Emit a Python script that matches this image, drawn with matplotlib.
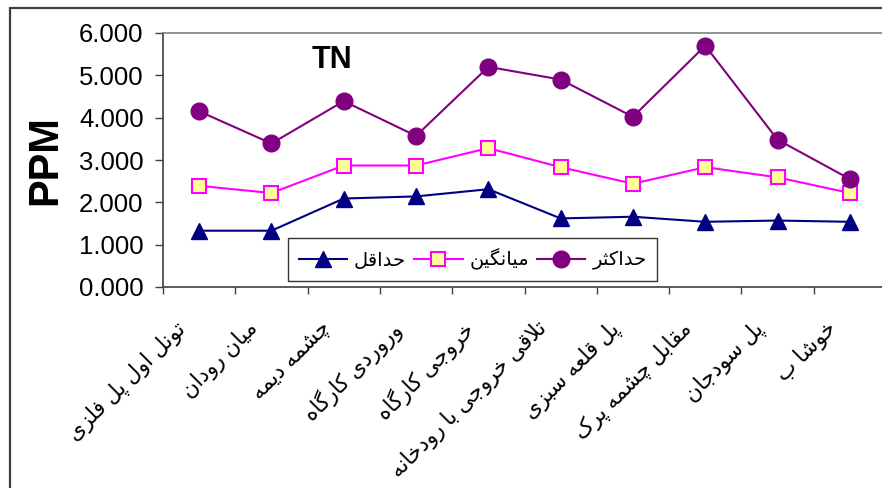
import matplotlib.pyplot as plt
import matplotlib.transforms as mtransforms
from matplotlib.patches import Rectangle
import numpy as np

# sampling stations (x axis)
stations = ["تونل اول پل فلزی", "میان رودان", "چشمه دیمه", "وروردی کارگاه",
            "خروجی کارگاه", "تلاقی خروجی با رودخانه", "پل قلعه سبزی",
            "مقابل چشمه پرک", "پل سودجان", "خوشا ب"]

# TN values (PPM)
tn_min = [1.33, 1.33, 2.09, 2.14, 2.31, 1.62, 1.66, 1.54, 1.57, 1.54]
tn_mean = [2.39, 2.22, 2.87, 2.87, 3.28, 2.83, 2.44, 2.83, 2.59, 2.22]
tn_max = [4.15, 3.39, 4.39, 3.57, 5.20, 4.90, 4.02, 5.70, 3.48, 2.55]

series_names = ["حداقل", "میانگین", "حداکثر"]

# --- minimal arabic/persian shaping (matplotlib has no text shaping) ---
FORMS = {
    'ا': (0xFE8D, 0xFE8E, None, None), 'ب': (0xFE8F, 0xFE90, 0xFE91, 0xFE92),
    'ت': (0xFE95, 0xFE96, 0xFE97, 0xFE98), 'ث': (0xFE99, 0xFE9A, 0xFE9B, 0xFE9C),
    'ج': (0xFE9D, 0xFE9E, 0xFE9F, 0xFEA0), 'ح': (0xFEA1, 0xFEA2, 0xFEA3, 0xFEA4),
    'خ': (0xFEA5, 0xFEA6, 0xFEA7, 0xFEA8), 'د': (0xFEA9, 0xFEAA, None, None),
    'ر': (0xFEAD, 0xFEAE, None, None), 'ز': (0xFEAF, 0xFEB0, None, None),
    'س': (0xFEB1, 0xFEB2, 0xFEB3, 0xFEB4), 'ش': (0xFEB5, 0xFEB6, 0xFEB7, 0xFEB8),
    'ع': (0xFEC9, 0xFECA, 0xFECB, 0xFECC), 'ف': (0xFED1, 0xFED2, 0xFED3, 0xFED4),
    'ق': (0xFED5, 0xFED6, 0xFED7, 0xFED8), 'ل': (0xFEDD, 0xFEDE, 0xFEDF, 0xFEE0),
    'م': (0xFEE1, 0xFEE2, 0xFEE3, 0xFEE4), 'ن': (0xFEE5, 0xFEE6, 0xFEE7, 0xFEE8),
    'ه': (0xFEE9, 0xFEEA, 0xFEEB, 0xFEEC), 'و': (0xFEED, 0xFEEE, None, None),
    'پ': (0xFB56, 0xFB57, 0xFB58, 0xFB59), 'چ': (0xFB7A, 0xFB7B, 0xFB7C, 0xFB7D),
    'ک': (0xFB8E, 0xFB8F, 0xFB90, 0xFB91), 'گ': (0xFB92, 0xFB93, 0xFB94, 0xFB95),
    'ی': (0xFBFC, 0xFBFD, 0xFBFE, 0xFBFF),
}


def joins_left(c):
    return c in FORMS and FORMS[c][2] is not None


def shape(text):
    out = []
    chars = list(text)
    i = 0
    while i < len(chars):
        c = chars[i]
        prev = chars[i - 1] if i > 0 else ' '
        if c not in FORMS:
            out.append(c)
            i += 1
            continue
        from_prev = joins_left(prev)
        # lam-alef ligature
        if c == 'ل' and i + 1 < len(chars) and chars[i + 1] == 'ا':
            out.append(chr(0xFEFC if from_prev else 0xFEFB))
            i += 2
            continue
        nxt = chars[i + 1] if i + 1 < len(chars) else ' '
        to_next = joins_left(c) and nxt in FORMS
        iso, fin, ini, med = FORMS[c]
        if from_prev and to_next:
            g = med
        elif from_prev:
            g = fin
        elif to_next:
            g = ini
        else:
            g = iso
        out.append(chr(g))
        i += 1
    return ''.join(out)[::-1]


plt.rcParams['font.family'] = ['Liberation Sans', 'DejaVu Sans']

fig = plt.figure(figsize=(8.82, 4.88), dpi=100)
# outer chart frame (right and bottom edges fall outside the picture)
fig.patches.append(Rectangle((10 / 882, -0.1), 1.2, 1.1 - 8 / 488,
                             transform=fig.transFigure, fill=False,
                             edgecolor='#404040', linewidth=1.6))
ax = fig.add_axes([163 / 882, 201 / 488, 723 / 882, 254 / 488])

x = np.arange(len(stations)) + 0.5
ax.plot(x, tn_min, color='#000080', lw=1.5, marker='^', ms=12,
        mfc='#000080', mec='#000080', label=shape(series_names[0]))
ax.plot(x, tn_mean, color='#FF00FF', lw=1.5, marker='s', ms=10,
        mfc='#FFFF99', mec='#FF00FF', mew=1.5, label=shape(series_names[1]))
ax.plot(x, tn_max, color='#800080', lw=1.5, marker='o', ms=12,
        mfc='#800080', mec='#800080', label=shape(series_names[2]))

ax.set_xlim(0, len(stations))
ax.set_ylim(0, 6)
ax.set_yticks(np.arange(0, 7, 1))
ax.set_yticklabels(["%.3f" % v for v in np.arange(0, 7, 1)], fontsize=18.5)
ax.tick_params(axis='y', direction='out', length=6, width=1, color='#404040', pad=8)

ax.set_xticks(np.arange(0, len(stations) + 1))
ax.set_xticklabels([])
ax.tick_params(axis='x', which='major', direction='out', length=5, width=1, color='#404040')
ax.set_xticks(x, minor=True)
ax.set_xticklabels([shape(s) for s in stations], minor=True, fontsize=15.5,
                   rotation=45, ha='right', va='top', rotation_mode='default')
ax.tick_params(axis='x', which='minor', length=0, pad=22)
offset = mtransforms.ScaledTranslation(-9 / 100, 0, fig.dpi_scale_trans)
for lab in ax.get_xticklabels(minor=True):
    lab.set_transform(lab.get_transform() + offset)

for side in ['left', 'bottom']:
    ax.spines[side].set_color('#404040')
    ax.spines[side].set_linewidth(1.2)
ax.spines['top'].set_color('#808080')
ax.spines['top'].set_linewidth(1.2)
ax.spines['right'].set_visible(False)

ax.set_ylabel('PPM', fontsize=30, fontweight='bold', labelpad=10)
ax.text(0.234, 0.894, 'TN', transform=ax.transAxes, fontsize=22,
        fontweight='bold', ha='center', va='center')

leg = ax.legend(ncol=3, loc='lower left', bbox_to_anchor=(125 / 723, 6 / 254),
                fontsize=14, frameon=True, fancybox=False, edgecolor='black',
                handlelength=2.5, handletextpad=0.35, columnspacing=0.4,
                borderpad=0.55, borderaxespad=0)
leg.get_frame().set_linewidth(1.0)

fig.savefig('out.png', dpi=100)
